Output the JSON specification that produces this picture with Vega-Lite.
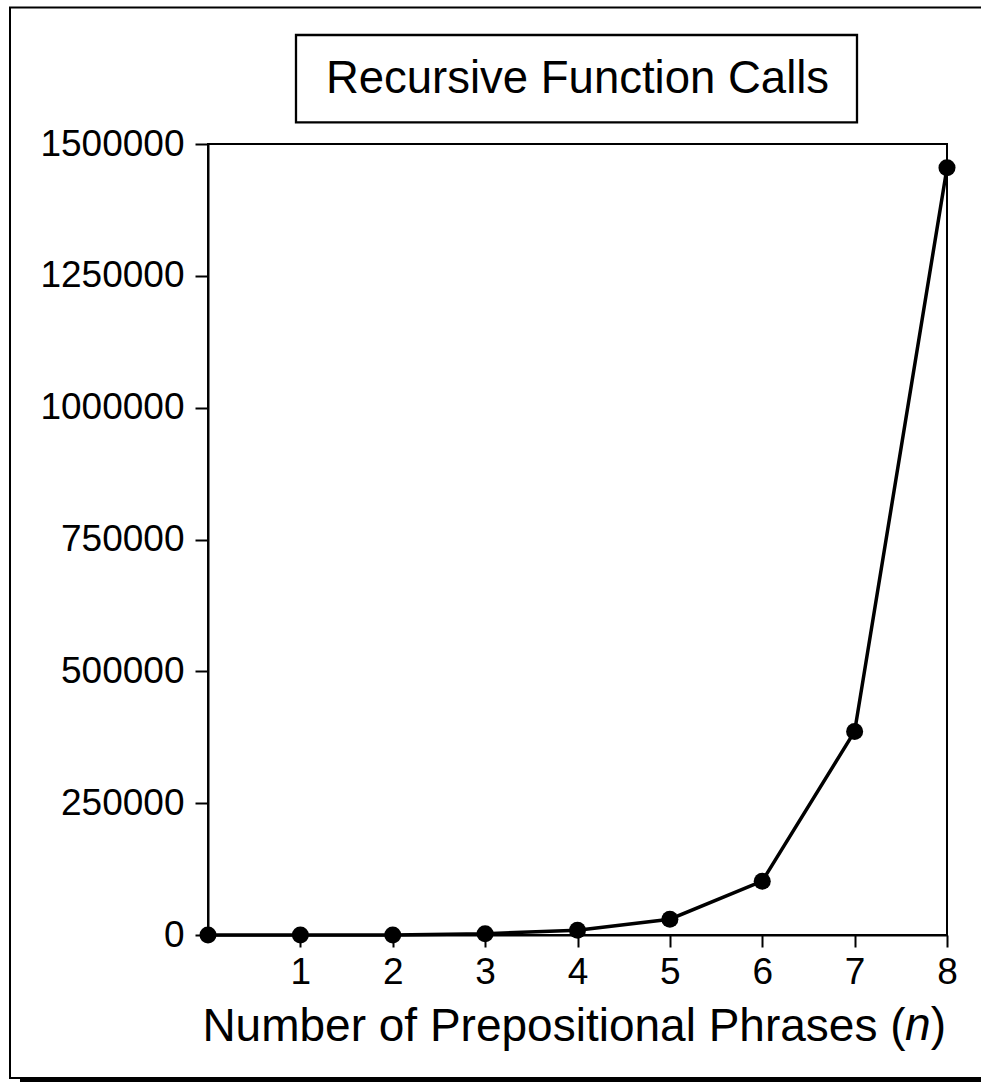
{
  "$schema": "https://vega.github.io/schema/vega-lite/v6.json",
  "width": 739,
  "height": 791,
  "autosize": {"type": "none"},
  "padding": {"left": 208, "top": 144, "right": 34, "bottom": 147},
  "background": "white",
  "config": {
    "view": {"stroke": "black", "strokeWidth": 2},
    "axis": {
      "domainColor": "black", "domainWidth": 2,
      "tickColor": "black", "tickWidth": 2,
      "labelColor": "black", "labelFont": "Liberation Sans", "labelFontSize": 37,
      "labelFlush": false, "labelOverlap": false,
      "titleFont": "Liberation Sans", "titleColor": "black", "titleFontWeight": "normal",
      "grid": false, "zindex": 1
    }
  },
  "layer": [
    {
      "data": {
        "values": [
          {"n": 0, "calls": 1},
          {"n": 1, "calls": 10},
          {"n": 2, "calls": 100},
          {"n": 3, "calls": 2500},
          {"n": 4, "calls": 9000},
          {"n": 5, "calls": 30000},
          {"n": 6, "calls": 102000},
          {"n": 7, "calls": 386000},
          {"n": 8, "calls": 1455000}
        ]
      },
      "mark": {"type": "line", "color": "black", "strokeWidth": 3.5, "clip": false,
               "point": {"filled": true, "size": 290, "color": "black"}},
      "encoding": {
        "x": {
          "field": "n", "type": "quantitative",
          "scale": {"domain": [0, 8], "nice": false, "zero": false},
          "axis": {
            "values": [1, 2, 3, 4, 5, 6, 7, 8],
            "format": "d",
            "tickSize": 12, "labelPadding": 7,
            "title": "Number of Prepositional Phrases (",
            "titleFontSize": 46, "titleAlign": "right", "titleAnchor": "end",
            "titleX": 697, "titleY": 105, "titleBaseline": "alphabetic"
          }
        },
        "y": {
          "field": "calls", "type": "quantitative",
          "scale": {"domain": [0, 1500000], "nice": false},
          "axis": {
            "values": [0, 250000, 500000, 750000, 1000000, 1250000, 1500000],
            "format": "d", "tickSize": 13, "labelPadding": 11, "title": null
          }
        }
      }
    },
    {
      "data": {"values": [{"part": "frame"}]},
      "mark": {"type": "rect", "filled": false, "stroke": "black", "strokeWidth": 2, "clip": false},
      "encoding": {
        "x": {"datum": -2.1434, "type": "quantitative"},
        "x2": {"datum": 8.47},
        "y": {"datum": 1758850, "type": "quantitative"},
        "y2": {"datum": -271176}
      }
    },
    {
      "data": {"values": [{"part": "shadow"}]},
      "mark": {"type": "rect", "fill": "black", "stroke": null, "clip": false},
      "encoding": {
        "x": {"datum": -2.0352, "type": "quantitative"},
        "x2": {"datum": 8.47},
        "y": {"datum": -272000, "type": "quantitative"},
        "y2": {"datum": -293932}
      }
    },
    {
      "data": {"values": [{"part": "titlebox"}]},
      "mark": {"type": "rect", "filled": false, "stroke": "black", "strokeWidth": 2.3, "clip": false},
      "encoding": {
        "x": {"datum": 0.9526, "type": "quantitative"},
        "x2": {"datum": 7.0257},
        "y": {"datum": 1706700, "type": "quantitative"},
        "y2": {"datum": 1541000}
      }
    },
    {
      "data": {"values": [{"label": "Recursive Function Calls"}]},
      "mark": {"type": "text", "font": "Liberation Sans", "fontSize": 45.5, "color": "black", "align": "center", "baseline": "alphabetic", "clip": false},
      "encoding": {
        "x": {"datum": 4, "type": "quantitative"},
        "y": {"datum": 1596700, "type": "quantitative"},
        "text": {"field": "label"}
      }
    },
    {
      "data": {"values": [{"label": "n"}]},
      "mark": {"type": "text", "font": "Liberation Sans", "fontSize": 46, "fontStyle": "italic", "color": "black", "align": "right", "baseline": "alphabetic", "clip": false},
      "encoding": {
        "x": {"datum": 7.8236, "type": "quantitative"},
        "y": {"datum": -199115, "type": "quantitative"},
        "text": {"field": "label"}
      }
    },
    {
      "data": {"values": [{"label": ")"}]},
      "mark": {"type": "text", "font": "Liberation Sans", "fontSize": 46, "color": "black", "align": "left", "baseline": "alphabetic", "clip": false},
      "encoding": {
        "x": {"datum": 7.8236, "type": "quantitative"},
        "y": {"datum": -199115, "type": "quantitative"},
        "text": {"field": "label"}
      }
    }
  ]
}
